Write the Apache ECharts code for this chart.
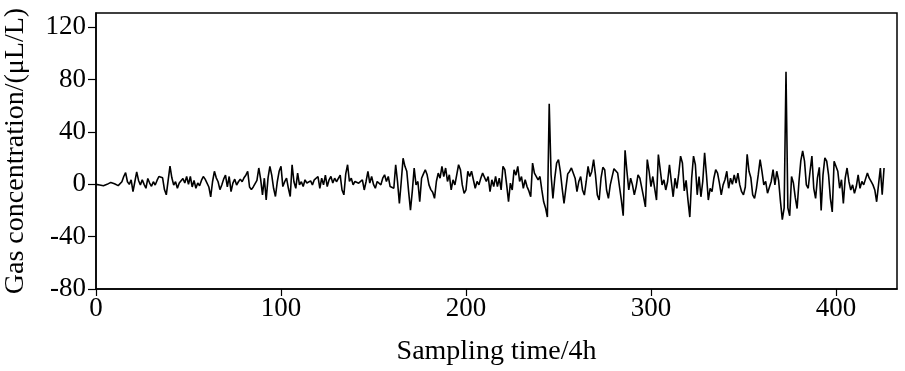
<!DOCTYPE html>
<html>
<head>
<meta charset="utf-8">
<script src="https://cdn.jsdelivr.net/npm/echarts@6/dist/echarts.min.js"></script>
<style>
  html, body { margin: 0; padding: 0; background: #fff; }
  #chart { width: 905px; height: 371px; }
</style>
</head>
<body>
<div id="chart"></div>
<script>
// gas concentration readings, one per sampling step (4h)
const gasValues = [
  0, 0.5, -0.5, 0, -1, -0.5, 0, 1, 1.5, 1, 0.5, 0, -1, -2, 2, 6, 9, 2, 0, 3.5,
  -5.5, 2, 9.5, 3, -0.5, 3.5, 0, -3, 4.5, 1, -1.5, 2, -0.5, 3, 6, 5.5, 5, -4, -8, 3,
  14, 5, -0.5, 2, -3, 1, 2, 4.5, 1, 6, 0, 6, -2, 3, -3, 1, -1, 3, 6, 4,
  3, -2, -9.5, 2, 10, 5, 2, -4, -0.5, 4, 7, -2, 6, -5.5, 1, 4, -0.5, 2, 4, 2,
  5, 7, 10, -2, -4, -2, -1, 3, 12.5, 4, -8, 4.7, -12, 5, 13.8, 7, -3, -9.3, 2, 10,
  13.8, -1.7, 2, 4.7, -3, -9.3, 15, 2, -3, 8.6, -0.4, 2, -1.7, 3.5, 1, 1.5, 2.7, -0.4, 3.5, 4,
  6, -3, 4.7, -0.4, 7, -1.7, 3.5, 6, 1, 4.7, 2, 2.2, 7, -4.3, -8, 8, 15, 2.2, 4.7, -0.4,
  2.2, 1.5, 0.9, 2.2, 3.5, -4.3, 2.2, 10, 1, 6, 0, -3, 2.2, 0.9, -0.4, 4.7, 7.3, 2.2, 6, -1.7,
  -0.4, -3, 15, 2, -14.6, 2, 20, 13.8, 10, -5.6, -19.8, -5, 12.5, -0.4, 2.2, -13.3, 4.7, 8, 11.2, 7.3,
  -0.4, -4, -6, -10.7, 2.2, 8.6, 4.7, 13.8, 6, 12.5, 2.2, 7.3, -4.3, 3.5, -0.4, 7.3, 15, 11.2, -0.4, -6.9,
  -4.3, 10, 6, 10, 8.6, -3, 2.2, -0.4, 4.7, 8.6, 10, 2.2, 6, -5.6, 3.5, -1.7, 6, -1.7, 4.7, -4.3,
  13.8, 11.2, -0.4, -13.3, 0.9, -4.3, 11.2, 7, 13.8, 2.2, 6, -3, 3.5, -1.7, -5, -9.5, 16.3, 8.6, 9.9, 3.5,
  6, -4.3, -13.3, -18, -25, 61.6, 7.3, -10.8, 4.7, 16.3, 19, 9.9, -3, -14.6, -3, 8, 9.9, 12.5, 13.8, 4.7,
  -5.6, 2.2, 6, -4.3, -8.2, 2.2, 13.8, 6, 9.9, 19, 7.3, -8.2, -12, 4.7, 13, 11.2, -4.3, -10.7, -0.4, -1.7,
  12, 12, 8.6, -2, -12, -24, 26, 10, -4.3, 4.7, -0.4, -8, -1.7, 7.3, 4.7, 6, -9.5, -17.2, 19, 10,
  -1.7, 6, -3, -12, 22.8, 11.2, -0.4, 3.5, -4.3, 2.2, 15, 2.2, -9.5, 4.7, -3, 8, 21.6, 16.3, -5, 3,
  -12, -25, 4.7, 21.6, 15, -8, 6, -9.5, 2.2, 24.1, 7.3, -12, -3, -5.6, 4.7, 11.2, 8.6, 1, -8, -0.4,
  3.5, 10, -3, 4.7, 0, 7.3, 1, 8.6, -0.4, -5.6, -8, -2, 23, 10, 5, -8, -10.7, -3, 7.4, 19,
  10, -0.4, 2.2, -6.8, -8, 2.2, 11.2, -0.4, 10, 3, -13, -27, -18, 86, -18, -24, 6, 1, -10, -18.5,
  2, 18, 25.6, 17.8, -0.4, -3, 10, 21.6, -3, -10.7, 5, 13, -20, 7.3, 20.2, 17.7, 7.3, -10.7, -21.1, 17.7,
  19, 10, -3, 3.5, -14.6, 4.7, 12.5, 2.2, -4.3, -0.4, -6.9, -1.7, 7.3, -3, 2.2, -0.4, -1.7, 8.6, 4.7, 2.2,
  -0.4, -4.3, -13.3, -0.4, 12.5, -8, 12.5
]
const xTicks = [0, 100, 200, 300, 400]
const yTicks = [-80, -40, 0, 40, 80, 120]

const seriesData = gasValues.map((v, i) => [i, v])
const font = 'Liberation Serif, Times New Roman, serif'

const chart = echarts.init(document.getElementById('chart'), null, { renderer: 'canvas' })
chart.setOption({
  animation: false,
  grid: {
    left: 96,
    right: 8,
    top: 13,
    bottom: 82,
    outerBoundsMode: 'none',
    show: true,
    borderColor: '#000',
    borderWidth: 1.5
  },
  xAxis: {
    type: 'value',
    min: 0,
    max: 433,
    name: 'Sampling time/4h',
    nameLocation: 'middle',
    nameGap: 49,
    nameTextStyle: { fontFamily: font, fontSize: 28, color: '#000' },
    axisLine: { show: true, onZero: false, lineStyle: { color: '#000', width: 1.5 } },
    axisTick: { show: true, length: 7, lineStyle: { color: '#000', width: 1.2 }, customValues: xTicks },
    axisLabel: { fontFamily: font, fontSize: 27, color: '#000', margin: 6, customValues: xTicks },
    splitLine: { show: false }
  },
  yAxis: {
    type: 'value',
    min: -80,
    max: 131,
    name: 'Gas concentration/(μL/L)',
    nameLocation: 'middle',
    nameGap: 66,
    nameTextStyle: { fontFamily: font, fontSize: 28, color: '#000' },
    axisLine: { show: true, onZero: false, lineStyle: { color: '#000', width: 1.5 } },
    axisTick: { show: true, length: 8, lineStyle: { color: '#000', width: 1.2 }, customValues: yTicks },
    axisLabel: { fontFamily: font, fontSize: 27, color: '#000', margin: 10, customValues: yTicks },
    splitLine: { show: false }
  },
  series: [
    {
      type: 'line',
      data: seriesData,
      showSymbol: false,
      lineStyle: { color: '#000', width: 1.6 }
    }
  ]
})
</script>
</body>
</html>
